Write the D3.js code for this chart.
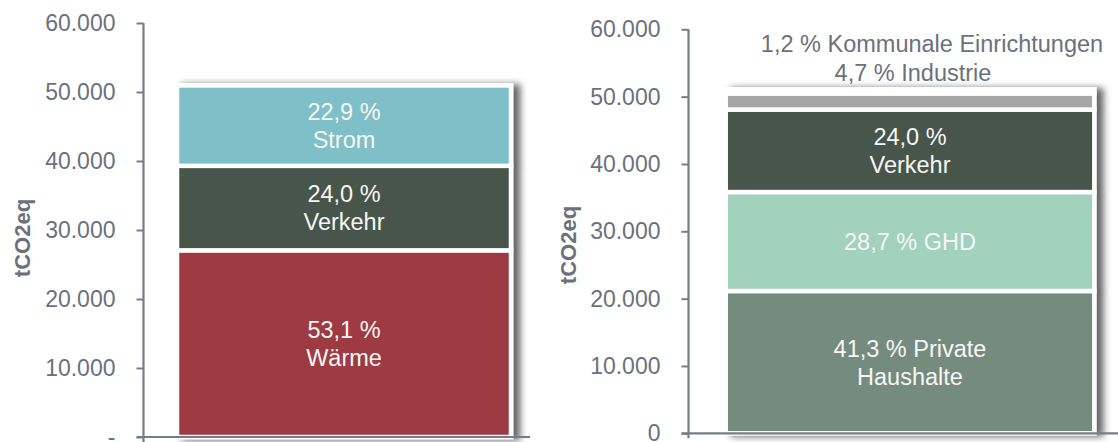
<!DOCTYPE html>
<html lang="de">
<head>
<meta charset="utf-8">
<script src="https://cdn.jsdelivr.net/npm/d3@7"></script>
<style>
   body { margin: 0; background: #fff; }
   svg { display: block; font-family: "Liberation Sans", Arial, sans-serif; }
</style>
</head>
<body>
<svg id="chart" width="1118" height="442"></svg>
<script>
// Daten: Emissionen nach Sektoren (links) und nach Verbrauchern (rechts), tCO2eq
const SectorNames = ['Wärme', 'Verkehr', 'Strom'];
const SectorValues = [27050, 12250, 11650];
const SectorLabels = [['53,1 %', 'Wärme'], ['24,0 %', 'Verkehr'], ['22,9 %', 'Strom']];

const ConsumerNames = ['Private Haushalte', 'GHD', 'Verkehr', 'Industrie', 'Kommunale Einrichtungen'];
const ConsumerValues = [21130, 14700, 12250, 2400, 610];
const ConsumerLabels = [['41,3 % Private', 'Haushalte'], ['28,7 % GHD'], ['24,0 %', 'Verkehr'], [], []];
const ConsumerNotes = ['4,7 % Industrie', '1,2 % Kommunale Einrichtungen'];

// Achse
const YTicks = [0, 10000, 20000, 30000, 40000, 50000, 60000];
const YMax = 60000;
const YTitle = 'tCO2eq';

// Farben
const SectorColors = ['#9e3a43', '#47554c', '#7fbfc7'];
const ConsumerColors = ['#758b7e', '#a2d1bd', '#47554c', '#a6a6a6', '#dde6ea'];

const AxisColor = '#777d88';
const TextColor = '#6b717c';

const de = d3.formatLocale({ decimal: ',', thousands: '.', grouping: [3], currency: ['', ' €'] });
const fmt = de.format(',.0f');

const svg = d3.select('#chart');

const defs = svg.append('defs');
defs.append('filter')
   .attr('id', 'shadow')
   .attr('x', '-10%').attr('y', '-10%')
   .attr('width', '130%').attr('height', '130%')
   .append('feDropShadow')
   .attr('dx', 7)
   .attr('dy', 1)
   .attr('stdDeviation', 3.5)
   .attr('flood-color', '#000')
   .attr('flood-opacity', 0.6);

drawPanel({
   axisX: 143.5, yTop: 23, yBottom: 437,
   barLeft: 177, barRight: 511, baseEnd: 530,
   zeroLabel: '-', titleX: 22, titleY: 238,
   names: SectorNames, values: SectorValues, labels: SectorLabels, colors: SectorColors
});

const right = drawPanel({
   axisX: 688.5, yTop: 29.3, yBottom: 433.3,
   barLeft: 725.7, barRight: 1094.3, baseEnd: 1118,
   zeroLabel: '0', titleX: 568, titleY: 245,
   names: ConsumerNames, values: ConsumerValues, labels: ConsumerLabels, colors: ConsumerColors
});

// Beschriftung der kleinen Segmente über dem Balken
const cx = right.x(right.band) + right.x.bandwidth() / 2;
svg.append('text')
   .attr('x', cx + 3)
   .attr('y', 81)
   .attr('text-anchor', 'middle')
   .attr('fill', TextColor)
   .style('font-size', '23.5px')
   .text(ConsumerNotes[0]);
svg.append('text')
   .attr('x', cx + 22)
   .attr('y', 52)
   .attr('text-anchor', 'middle')
   .attr('fill', TextColor)
   .style('font-size', '23.5px')
   .text(ConsumerNotes[1]);

// Ein Panel mit gestapeltem Balken
function drawPanel(p) {
   const y = d3.scaleLinear().domain([0, YMax]).range([p.yBottom, p.yTop]);
   const band = 'gesamt';
   const x = d3.scaleBand().domain([band]).range([p.barLeft, p.barRight]).padding(0);

   // gestapelte Werte
   const row = {};
   p.names.forEach((n, i) => { row[n] = p.values[i]; });
   const stack = d3.stack().keys(p.names)([row]);

   const g = svg.append('g');

   const bar = g.append('g').attr('filter', 'url(#shadow)');
   bar.selectAll('rect')
      .data(stack)
      .enter()
      .append('rect')
      .attr('x', x(band))
      .attr('width', x.bandwidth())
      .attr('y', (d) => y(d[0][1]))
      .attr('height', (d) => y(d[0][0]) - y(d[0][1]))
      .attr('fill', (d, i) => p.colors[i])
      .attr('stroke', '#fff')
      .attr('stroke-width', 4.5);

   // Texte in den Segmenten
   stack.forEach((d, i) => {
      const lines = p.labels[i];
      if (!lines.length) return;
      const mid = (y(d[0][0]) + y(d[0][1])) / 2;
      const first = mid - (lines.length - 1) * 14 + 8.4;
      g.append('text')
         .attr('text-anchor', 'middle')
         .attr('fill', '#f7f7f7')
         .style('font-size', '23.5px')
         .selectAll('tspan')
         .data(lines)
         .enter()
         .append('tspan')
         .attr('x', x(band) + x.bandwidth() / 2)
         .attr('y', (t, j) => first + j * 28)
         .text((t) => t);
   });

   // x-Achse (Grundlinie)
   g.append('line')
      .attr('x1', p.axisX - 7)
      .attr('x2', p.baseEnd)
      .attr('y1', y(0))
      .attr('y2', y(0))
      .attr('stroke', AxisColor)
      .attr('stroke-width', 2.2);

   // y-Achse
   const axis = g.append('g')
      .attr('transform', `translate(${p.axisX},0)`)
      .call(d3.axisLeft(y)
         .tickValues(YTicks)
         .tickSize(7)
         .tickPadding(21)
         .tickSizeOuter(0)
         .tickFormat((v) => v === 0 ? p.zeroLabel : fmt(v)));
   axis.select('.domain')
      .attr('d', `M0,${p.yTop}V${p.yBottom + 5}`)
      .attr('stroke', AxisColor)
      .attr('stroke-width', 2.2);
   axis.selectAll('.tick line').attr('stroke', AxisColor).attr('stroke-width', 2);
   axis.selectAll('.tick text')
      .attr('fill', TextColor)
      .style('font-size', '23px')
      .style('font-family', '"Liberation Sans", Arial, sans-serif');

   g.append('text')
      .attr('transform', `translate(${p.titleX},${p.titleY}) rotate(-90)`)
      .attr('text-anchor', 'middle')
      .attr('dominant-baseline', 'central')
      .attr('fill', TextColor)
      .style('font-size', '22px')
      .style('font-weight', 'bold')
      .text(YTitle);

   return { x: x, y: y, band: band };
}
</script>
</body>
</html>
